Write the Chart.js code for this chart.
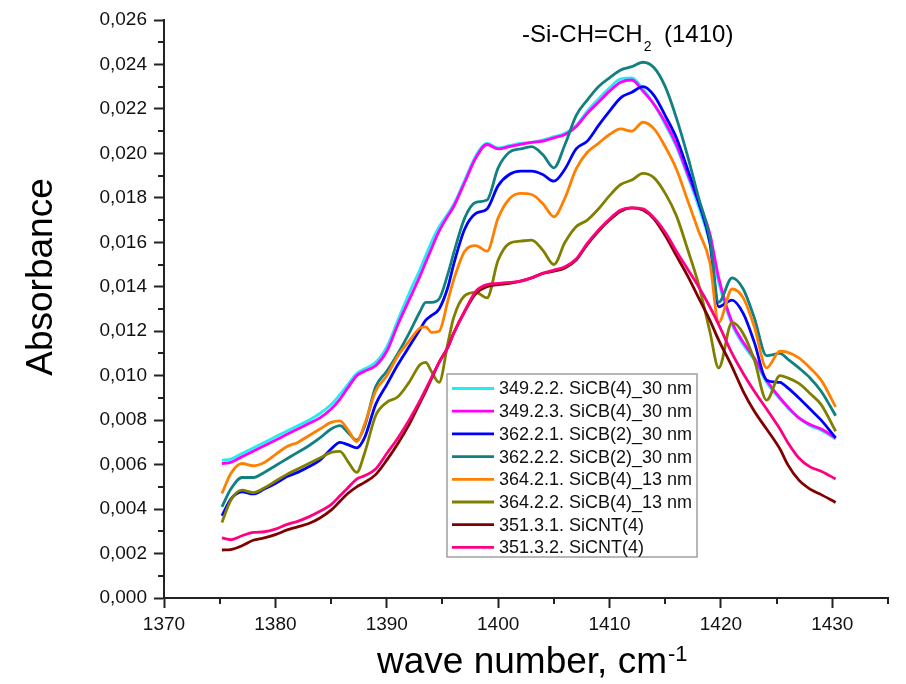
<!DOCTYPE html>
<html lang="en">
<head>
    <meta charset="UTF-8">
    <title>Absorbance -Si-CH=CH2 (1410)</title>
    <script src="https://cdn.jsdelivr.net/npm/chart.js"></script>
    <style>
        body {
            margin: 0;
            background-color: #ffffff;
        }
        #wrap {
            width: 906px;
            height: 684px;
        }
    </style>
</head>
<body>
    <div id="wrap"><canvas id="irChart" width="906" height="684"></canvas></div>
    <script>
        // wave numbers, cm-1 (shared by all spectra)
        let waveNumbers = [1375.2, 1376, 1377, 1378, 1379, 1380, 1381, 1382, 1383, 1384, 1385,
            1385.8, 1386.5, 1387.3, 1388, 1389, 1390, 1391, 1392, 1393, 1393.5, 1394, 1394.7, 1395.5, 1396,
            1397, 1398, 1399, 1400, 1401, 1402, 1403, 1404, 1405, 1406, 1407, 1408, 1409, 1410, 1411, 1412,
            1413, 1414, 1415, 1416, 1417, 1418, 1419,
            1419.8, 1421, 1422, 1423, 1424.1, 1425.3, 1426, 1427, 1428, 1429, 1430.3];

        let seriesLabels = ["349.2.2. SiCB(4)_30 nm", "349.2.3. SiCB(4)_30 nm", "362.2.1. SiCB(2)_30 nm",
            "362.2.2. SiCB(2)_30 nm", "364.2.1. SiCB(4)_13 nm", "364.2.2. SiCB(4)_13 nm",
            "351.3.1. SiCNT(4)", "351.3.2. SiCNT(4)"];
        let seriesColors = ["#22eeee", "#ff00ff", "#0000ff", "#118080", "#ff8000", "#808000", "#800000", "#ff0080"];

        let s349_2_2 = [0.0062, 0.00625, 0.0065, 0.00675, 0.0070, 0.00725, 0.0075, 0.00775, 0.0080, 0.0083, 0.0087,
            0.00915, 0.0096, 0.0101, 0.0103, 0.0106, 0.0113, 0.0125, 0.0137, 0.0148, 0.0154, 0.0160, 0.0167, 0.0173, 0.0177,
            0.0188, 0.0199, 0.02045, 0.02025, 0.02035, 0.02045, 0.0205, 0.0206, 0.02075, 0.0209, 0.02125, 0.0219, 0.02245, 0.02295, 0.02335, 0.0234,
            0.0229, 0.0222, 0.0213, 0.0203, 0.0190, 0.0176, 0.0160,
            0.0142, 0.0123, 0.0114, 0.0107, 0.0097, 0.00895, 0.00855, 0.0081, 0.00775, 0.00755, 0.00715];
        let s349_2_3 = [0.00605, 0.0061, 0.00635, 0.0066, 0.00685, 0.0071, 0.00735, 0.0076, 0.00785, 0.0081, 0.0085,
            0.00895, 0.00945, 0.0100, 0.0102, 0.01045, 0.0111, 0.0123, 0.0134, 0.0145, 0.0151, 0.0157, 0.0165, 0.0172, 0.0176,
            0.0187, 0.0198, 0.0204, 0.0202, 0.0203, 0.0204, 0.0205, 0.02055, 0.0207, 0.02085, 0.0212, 0.0218, 0.0223, 0.0228, 0.0232, 0.0233,
            0.0228, 0.0222, 0.0214, 0.0204, 0.0191, 0.0178, 0.0164,
            0.0144, 0.0124, 0.0115, 0.0108, 0.0098, 0.0090, 0.0086, 0.0081, 0.0078, 0.0076, 0.0072];
        let s362_2_1 = [0.0037, 0.00445, 0.00478, 0.00468, 0.0049, 0.00515, 0.00545, 0.00565, 0.0059, 0.0062, 0.0067,
            0.0070, 0.0069, 0.00675, 0.0072, 0.0087, 0.0096, 0.0105, 0.0113, 0.0121, 0.0125, 0.0127, 0.0130, 0.0140, 0.0150,
            0.0166, 0.0173, 0.0175, 0.01855, 0.01905, 0.0192, 0.0192, 0.01905, 0.01875, 0.0193, 0.0202, 0.02055, 0.02125, 0.0219, 0.0225, 0.02275,
            0.0230, 0.0226, 0.0217, 0.0207, 0.0193, 0.0178, 0.0160,
            0.0131, 0.0134, 0.0128, 0.0115, 0.0098, 0.0097, 0.00945, 0.0090, 0.0085, 0.0080, 0.0072];
        let s362_2_2 = [0.0041, 0.0049, 0.00542, 0.00542, 0.00565, 0.00595, 0.00625, 0.00655, 0.00685, 0.0072, 0.0076,
            0.00775, 0.00745, 0.0071, 0.0077, 0.0095, 0.0102, 0.0110, 0.0119, 0.0129, 0.0133, 0.0133, 0.01345, 0.0146, 0.0155,
            0.0171, 0.0178, 0.0179, 0.01935, 0.02005, 0.0202, 0.0203, 0.01995, 0.01935, 0.0204, 0.0217, 0.0224, 0.0230, 0.0234, 0.02375, 0.0239,
            0.0241, 0.02385, 0.0230, 0.0216, 0.0199, 0.0180, 0.0162,
            0.0133, 0.0144, 0.0139, 0.0126, 0.0109, 0.0110, 0.01075, 0.01035, 0.0099, 0.0093, 0.0082];
        let s364_2_1 = [0.0047, 0.0056, 0.00605, 0.00595, 0.0061, 0.00645, 0.0068, 0.0070, 0.0073, 0.0076, 0.0079,
            0.00797, 0.00757, 0.00704, 0.0078, 0.0093, 0.0100, 0.0109, 0.01155, 0.01215, 0.0122, 0.01195, 0.0120, 0.0134, 0.0143,
            0.0156, 0.01585, 0.0156, 0.0171, 0.01795, 0.0182, 0.01815, 0.01775, 0.01715, 0.0180, 0.0193, 0.02005, 0.02045, 0.02085, 0.0211, 0.0210,
            0.0214, 0.0211, 0.0203, 0.0193, 0.0179, 0.0165, 0.0151,
            0.0124, 0.0139, 0.0135, 0.0122, 0.01035, 0.0111, 0.01105, 0.0108, 0.01035, 0.0098, 0.0086];
        let s364_2_2 = [0.0034, 0.0044, 0.00485, 0.00474, 0.00495, 0.00525, 0.00555, 0.0058, 0.00605, 0.0063, 0.00655,
            0.0066, 0.00615, 0.00565, 0.0065, 0.0082, 0.0088, 0.00905, 0.0097, 0.0105, 0.0106, 0.0102, 0.0097, 0.0115, 0.0126,
            0.0136, 0.01375, 0.0135, 0.0152, 0.01595, 0.01605, 0.0161, 0.01565, 0.0150, 0.0160, 0.0167, 0.0170, 0.0175, 0.0181, 0.0186, 0.0188,
            0.0191, 0.0189, 0.0182, 0.0172, 0.0157, 0.0141, 0.0120,
            0.01035, 0.0124, 0.0119, 0.0107, 0.0089, 0.0100, 0.0099, 0.00965, 0.0092, 0.0087, 0.0075];
        let s351_3_1 = [0.00216, 0.00218, 0.00235, 0.0026, 0.0027, 0.00285, 0.00305, 0.0032, 0.00335, 0.0036, 0.00395,
            0.00435, 0.0047, 0.0050, 0.0052, 0.00555, 0.0062, 0.00695, 0.0078, 0.0088, 0.0093, 0.00985, 0.0106, 0.0113, 0.0119,
            0.0129, 0.0137, 0.0140, 0.0141, 0.01415, 0.01425, 0.0144, 0.0146, 0.0147, 0.01485, 0.0152, 0.0159, 0.0165, 0.0170, 0.0174, 0.01755,
            0.01745, 0.01705, 0.0163, 0.0154, 0.0145, 0.0135, 0.0125,
            0.0116, 0.0104, 0.0093, 0.0084, 0.0076, 0.0067, 0.0060, 0.0053, 0.0049, 0.00465, 0.0043];
        let s351_3_2 = [0.0027, 0.00262, 0.0028, 0.00295, 0.00298, 0.0031, 0.0033, 0.00345, 0.00365, 0.0039, 0.0042,
            0.0046, 0.00495, 0.00535, 0.0055, 0.0058, 0.0065, 0.0072, 0.0080, 0.0089, 0.0094, 0.0099, 0.0106, 0.0113, 0.0119,
            0.0129, 0.0138, 0.0141, 0.01415, 0.0142, 0.01425, 0.0144, 0.0146, 0.01475, 0.0149, 0.01525, 0.01595, 0.01655, 0.01705, 0.01745, 0.01755,
            0.0175, 0.0171, 0.01645, 0.0156, 0.0148, 0.0140, 0.0131,
            0.0123, 0.0110, 0.0101, 0.0093, 0.0085, 0.0076, 0.0070, 0.0063, 0.0059, 0.0057, 0.00535];

        let allSeries = [s349_2_2, s349_2_3, s362_2_1, s362_2_2, s364_2_1, s364_2_2, s351_3_1, s351_3_2];

        // axis ticks
        let xTickValues = [1370, 1380, 1390, 1400, 1410, 1420, 1430];
        let xMinorValues = [1375, 1385, 1395, 1405, 1415, 1425, 1435];
        let yTickValues = [0, 0.002, 0.004, 0.006, 0.008, 0.010, 0.012, 0.014, 0.016, 0.018, 0.020, 0.022, 0.024, 0.026];
        let yMinorValues = [0.001, 0.003, 0.005, 0.007, 0.009, 0.011, 0.013, 0.015, 0.017, 0.019, 0.021, 0.023, 0.025];

        const FONT = "'Liberation Sans', Arial, sans-serif";

        let datasets = allSeries.map((arr, i) => ({
            label: seriesLabels[i],
            data: waveNumbers.map((w, j) => ({ x: w, y: arr[j] })),
            borderColor: seriesColors[i],
            backgroundColor: seriesColors[i],
            borderWidth: 2.8,
            pointRadius: 0,
            cubicInterpolationMode: "monotone",
            fill: false,
            order: allSeries.length - i
        }));

        // minor ticks, titles, annotation and legend box
        const extras = {
            id: "extras",
            afterDraw(chart) {
                const ctx = chart.ctx;
                const xs = chart.scales.x;
                const ys = chart.scales.y;
                const area = chart.chartArea;
                ctx.save();

                ctx.strokeStyle = "#222";
                ctx.lineWidth = 2;
                yMinorValues.forEach(v => {
                    let py = Math.round(ys.getPixelForValue(v));
                    ctx.beginPath();
                    ctx.moveTo(area.left - 6, py);
                    ctx.lineTo(area.left, py);
                    ctx.stroke();
                });
                xMinorValues.forEach(v => {
                    let px = Math.round(xs.getPixelForValue(v));
                    ctx.beginPath();
                    ctx.moveTo(px, area.bottom);
                    ctx.lineTo(px, area.bottom + 6);
                    ctx.stroke();
                });

                ctx.fillStyle = "#000";
                ctx.textBaseline = "alphabetic";

                // y title
                ctx.save();
                ctx.translate(52, 277);
                ctx.rotate(-Math.PI / 2);
                ctx.font = "37px " + FONT;
                ctx.textAlign = "center";
                ctx.fillText("Absorbance", 0, 0);
                ctx.restore();

                // x title
                ctx.textAlign = "left";
                ctx.font = "37px " + FONT;
                ctx.fillText("wave number, cm", 377, 673);
                let w = ctx.measureText("wave number, cm").width;
                ctx.font = "22px " + FONT;
                ctx.fillText("-1", 377 + w + 1, 661);

                // band annotation
                ctx.font = "24px " + FONT;
                ctx.fillText("-Si-CH=CH", 522, 42);
                let w2 = ctx.measureText("-Si-CH=CH").width;
                ctx.font = "14px " + FONT;
                ctx.fillText("2", 522 + w2 + 1, 51);
                ctx.font = "24px " + FONT;
                ctx.fillText("(1410)", 664, 42);

                // legend
                let bx = 447, by = 374, bw = 250, bh = 183;
                ctx.fillStyle = "#fff";
                ctx.fillRect(bx, by, bw, bh);
                ctx.strokeStyle = "#a0a0a0";
                ctx.lineWidth = 1.5;
                ctx.strokeRect(bx, by, bw, bh);
                ctx.font = "18px " + FONT;
                ctx.textBaseline = "middle";
                seriesLabels.forEach((lab, i) => {
                    let cy = 388.5 + i * 22.7;
                    ctx.strokeStyle = seriesColors[i];
                    ctx.lineWidth = 2.8;
                    ctx.beginPath();
                    ctx.moveTo(452, cy);
                    ctx.lineTo(494, cy);
                    ctx.stroke();
                    ctx.fillStyle = "#111";
                    ctx.fillText(lab, 499, cy + 1);
                });
                ctx.restore();
            }
        };

        let ctx = document.getElementById("irChart").getContext("2d");
        let irChart = new Chart(ctx, {
            type: "line",
            data: { datasets: datasets },
            options: {
                responsive: false,
                animation: false,
                devicePixelRatio: 1,
                layout: { padding: { left: 0, right: 18, top: 20, bottom: 0 } },
                plugins: {
                    legend: { display: false },
                    tooltip: { enabled: false }
                },
                scales: {
                    x: {
                        type: "linear",
                        min: 1370,
                        max: 1435,
                        afterFit: s => { s.height = 86; },
                        afterBuildTicks: s => { s.ticks = xTickValues.map(v => ({ value: v })); },
                        grid: { display: true, drawOnChartArea: false, drawTicks: true, tickLength: 10, tickWidth: 2, tickColor: "#222" },
                        border: { display: true, color: "#222", width: 2 },
                        ticks: {
                            color: "#111",
                            padding: 5,
                            maxRotation: 0,
                            autoSkip: false,
                            font: { family: FONT, size: 19 },
                            callback: v => String(v)
                        }
                    },
                    y: {
                        type: "linear",
                        min: 0,
                        max: 0.026,
                        afterFit: s => { s.width = 164; },
                        afterBuildTicks: s => { s.ticks = yTickValues.map(v => ({ value: v })); },
                        grid: { display: true, drawOnChartArea: false, drawTicks: true, tickLength: 10, tickWidth: 2, tickColor: "#222" },
                        border: { display: true, color: "#222", width: 2 },
                        ticks: {
                            color: "#111",
                            padding: 7,
                            autoSkip: false,
                            font: { family: FONT, size: 19 },
                            callback: v => v.toFixed(3).replace(".", ",")
                        }
                    }
                }
            },
            plugins: [extras]
        });
    </script>
</body>
</html>
